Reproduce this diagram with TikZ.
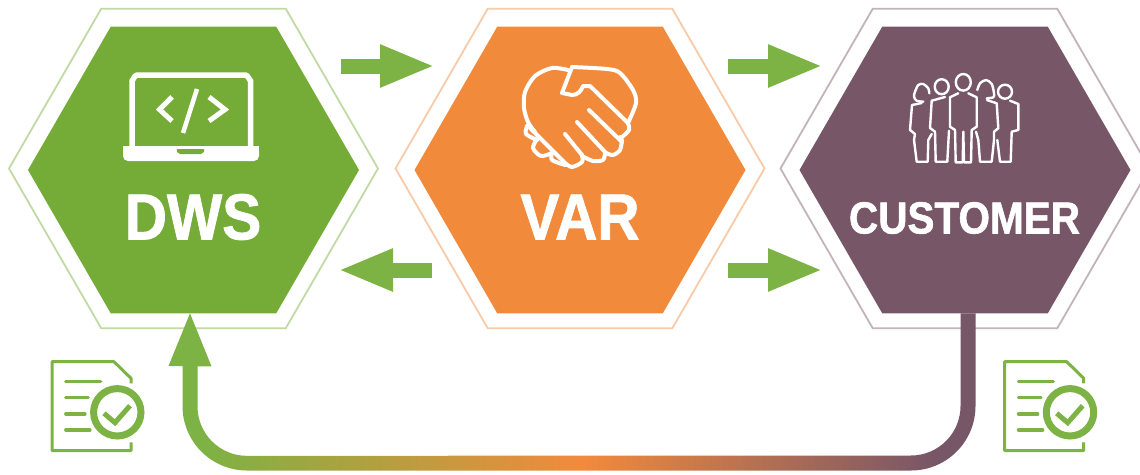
\documentclass[tikz,border=0pt]{standalone}
\usepackage{fontspec}
\setmainfont[FakeStretch=0.9,BoldFeatures={FakeBold=1.2}]{Liberation Sans}
\usetikzlibrary{shapes.geometric,arrows.meta}
\definecolor{dwsgreen}{HTML}{75AC38}
\definecolor{varorange}{HTML}{F28A3C}
\definecolor{custpurple}{HTML}{775668}
\definecolor{flowgreen}{HTML}{7DB244}
\pgfdeclarehorizontalshading{returnflow}{100bp}{color(0bp)=(flowgreen); color(27bp)=(flowgreen); color(50.6bp)=(varorange); color(72.5bp)=(custpurple); color(100bp)=(custpurple)}
\tikzset{
  hexfill/.style={regular polygon, regular polygon sides=6,
    minimum size=331pt, inner sep=0pt, outer sep=0pt, fill=#1},
  hexring/.style={regular polygon, regular polygon sides=6,
    minimum size=369pt, inner sep=0pt, outer sep=0pt, draw=#1, line width=1.8pt},
  hexlabel/.style={text=white, font=\bfseries\fontsize{65}{70}\selectfont, inner sep=0pt},
  blockarrow/.style={draw=flowgreen, line width=15pt,
    -{Triangle[length=55pt,width=39pt]}},
  iconline/.style={draw=white, line width=#1, line join=round, line cap=round},
  docicon/.pic={
    \draw[flowgreen, line width=3pt, line join=round]
      (79,21.6) -- (79,16.6) -- (62,0) -- (0,0) -- (0,89) -- (79,89) -- (79,80.6);
    \draw[flowgreen, line width=3.2pt, line cap=round] (13.7,20) -- (48.7,20);
    \draw[flowgreen, line width=3.2pt, line cap=round] (13.7,36) -- (36.3,36);
    \draw[flowgreen, line width=3.2pt, line cap=round] (13.7,52.3) -- (33,52.3);
    \draw[flowgreen, line width=3.2pt, line cap=round] (13.7,68.3) -- (38,68.3);
    \draw[flowgreen, line width=7pt] (65.3,50.6) circle (23.7);
    \draw[flowgreen, line width=5pt] (52,51.6) -- (63,61) -- (78,44);
  }
}
\begin{document}
\begin{tikzpicture}[x=1pt, y=-1pt]
  \useasboundingbox (0,0) rectangle (1140,474);
  %
  \node[hexring=dwsgreen!45] (dwsring) at (193.5,168.5) {};
  \node[hexring=varorange!45] (varring) at (580,168.5) {};
  \node[hexring=custpurple!45] (customerring) at (965,168.5) {};
  %
  \node[hexfill=dwsgreen] (dws) at (193.5,170) {};
  \node[hexfill=varorange] (var) at (580,170) {};
  \node[hexfill=custpurple] (customer) at (965,170) {};
  %
  \draw(193,217) node[hexlabel] (dwstext) {DWS};
  \draw(580,217) node[hexlabel] (vartext) {VAR};
  \draw(964.5,218) node[hexlabel, font=\bfseries\fontsize{45}{50}\selectfont] (customertext) {CUSTOMER};
  %
  \coordinate (dwsout) at (341,66);
  \coordinate (varin) at (435,66);
  \coordinate (varout) at (728,66);
  \coordinate (custin) at (823,66);
  \coordinate (varback) at (432,270);
  \coordinate (dwsin) at (338,270);
  \coordinate (varlow) at (728,270);
  \coordinate (custlow) at (823,270);
  \draw[blockarrow] (dwsout) -- (varin);               % top row
  \draw[blockarrow] (varout) -- (custin);
  \draw[blockarrow] (varback) -- (dwsin);              % lower row
  \draw[blockarrow] (varlow) -- (custlow);
  %
  % return path, one filled outline so that it can be shaded
  \shade[shading=returnflow] ([xshift=-3.5pt]dws.south) -- ++(21.5,53) -- ++(-14,0) -- ++(0,40)
    arc[start angle=180, end angle=90, radius=49.5] -- (911,455.5)
    arc[start angle=90, end angle=0, radius=49.5] -- ([xshift=-4.5pt]customer.south)
    -- ([xshift=10.5pt]customer.south) -- (975.5,406)
    arc[start angle=0, end angle=90, radius=64.5] -- (247,470.5)
    arc[start angle=90, end angle=180, radius=64.5] -- (182.5,366) -- (168.5,366) -- cycle;
  %
  % laptop
  \draw[iconline=5.5pt] (132,146) -- (132,80) to[out=-90, in=180] (137,75) -- (245.5,75)
    to[out=0, in=-90] (250.5,80) -- (250.5,146);
  \fill[white, rounded corners=5pt] (123,146) -- (259,146) -- (259,161) -- (123,161) -- cycle;
  \fill[white] (123,146) rectangle (259,152);
  \fill[dwsgreen, rounded corners=2pt] (176,149) -- (178,154) -- (203,154) -- (205,149) -- cycle;
  \draw[iconline=5pt, line cap=butt, line join=miter] (172,97) -- (159.5,109.5) -- (172,121);
  \draw[iconline=5pt, line cap=butt, line join=miter] (209,97) -- (225,109.5) -- (209,121);
  \draw[iconline=4.5pt, line cap=butt] (197,89) -- (183,133);
  %
  % handshake
  \draw[iconline=4pt] plot[smooth] coordinates {(568,70) (552,68) (535,76) (525,92) (524,108) (528,122) (535,132)};
  \draw[iconline=4pt] (530,128) -- (565,163);
  \draw[iconline=4pt] plot[smooth] coordinates {(527,126) (526,134) (537,140)};
  \draw[iconline=4pt] plot[smooth] coordinates {(537,139) (533,148) (541,156) (552,153)};
  \draw[iconline=4pt] plot[smooth] coordinates {(552,153) (552,160) (565,165)};
  \draw[iconline=4pt] plot[smooth] coordinates {(565,163) (572,167) (582,162) (582,155)};
  \draw[iconline=4pt] plot[smooth] coordinates {(572,67) (607,69) (620,73) (633,90) (636,103) (628,123)};
  \draw[iconline=4pt] (572,67) -- (562,93) -- (572,95) to[out=0, in=-110] (583,86) -- (590,86) -- (628,123);
  \draw[iconline=4pt] plot[smooth] coordinates {(628,123) (629,130) (622,137) (620,137)};
  \draw[iconline=4pt] (589,110) -- (622,142);
  \draw[iconline=4pt] plot[smooth] coordinates {(622,140) (620,150) (613,155) (606,153)};
  \draw[iconline=4pt] (577,122) -- (606,153);
  \draw[iconline=4pt] plot[smooth] coordinates {(605,153) (603,160) (593,161) (582,156)};
  \draw[iconline=4pt] (565,134) -- (582,155);
  %
  % people
  \draw[iconline=2.4pt] (963.3,82.3) ellipse (7.5 and 8.3);
  \draw[iconline=2.4pt] (958.3,93.3) -- (950,97.3) -- (950,126.7) -- (955,130) -- (955.7,162.3) -- (962.7,162.3) -- (963.3,131.7)
    -- (964,162.3) -- (971,162.3) -- (971.7,130) -- (976.7,126.7) -- (976.7,97.3) -- (968.3,93.3);
  \draw[iconline=2.4pt] (941.7,86.7) ellipse (7 and 7.5);
  \draw[iconline=2.4pt] (945,97) -- (931.7,100.7) -- (930,128) -- (935,131.7) -- (935.7,161.7) -- (947.3,161.7) -- (949,130.7);
  \draw[iconline=2.4pt] plot[smooth] coordinates {(929.3,93.3) (928.3,88.3) (923.3,84) (918.3,85) (915,91.7) (914,96.7) (916.7,100.7) (923.3,101.7)};
  \draw[iconline=2.4pt] (921.7,103) -- (912,105) -- (910,130) -- (915,134) -- (914,140) -- (916.7,161.7) -- (927.7,161.7) -- (928.3,140) -- (931.7,134);
  \draw[iconline=2.4pt] plot[smooth] coordinates {(977.3,90) (980,83.3) (986,80) (991.7,84) (994,93.3) (993.3,97.3) (986.7,98.3)};
  \draw[iconline=2.4pt] (987,100) -- (996.7,103.3) -- (998.3,128.3) -- (994,131.7) -- (994,140) -- (991.7,161.7) -- (980,161.7) -- (978.3,140) -- (976,131.7);
  \draw[iconline=2.4pt] (1005,91.7) ellipse (7 and 7);
  \draw[iconline=2.4pt] (1010,100.7) -- (1018.3,104) -- (1018.3,130) -- (1011.7,131.7) -- (1010.7,161.7) -- (1000,161.7) -- (997.3,140);
  %
  \pic at (52,361.7) {docicon};
  \pic at (1004.7,361.7) {docicon};
\end{tikzpicture}
\end{document}
